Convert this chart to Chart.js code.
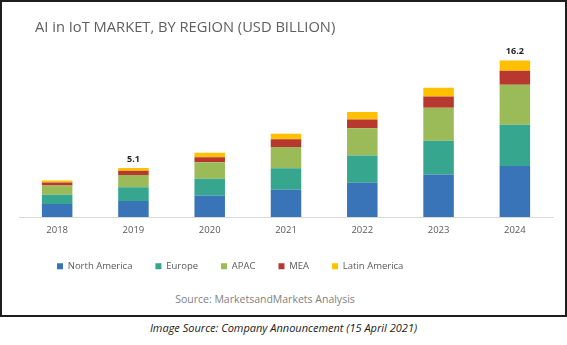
<!DOCTYPE html>
<html>
<head>
<meta charset="utf-8">
<script src="https://cdn.jsdelivr.net/npm/chart.js@4.4.1/dist/chart.umd.min.js"></script>
<style>
  html, body { margin: 0; padding: 0; background: #fff; width: 567px; height: 345px; overflow: hidden; }
  #box { position: absolute; left: 0; top: 0; width: 567px; height: 317px; box-sizing: border-box; border: 2px solid #1e1e1e; }
  #wrap { position: absolute; left: 0; top: 0; width: 563px; height: 283px; }
  #source { position: absolute; left: 0; width: 530px; top: 289px; text-align: center; font-family: "Open Sans", sans-serif; font-size: 10.5px; color: #7f7f7f; line-height: 20px; }
  #caption { position: absolute; left: 0; width: 567px; top: 318px; text-align: center; font-family: "Open Sans", sans-serif; font-style: italic; font-size: 11px; color: #1a1a1a; line-height: 20px; }
</style>
</head>
<body>
<div id="box">
  <div id="wrap"><canvas id="c"></canvas></div>
</div>
<div id="source">Source: MarketsandMarkets Analysis</div>
<div id="caption">Image Source: Company Announcement (15 April 2021)</div>
<script>
const titleText = 'AI in IoT MARKET, BY REGION (USD BILLION)';
const years = ['2018', '2019', '2020', '2021', '2022', '2023', '2024'];
const seriesNames = ['North America', 'Europe', 'APAC', 'MEA', 'Latin America'];
const northAmerica = [1.35, 1.67, 2.23, 2.84, 3.55, 4.40, 5.29];
const europe       = [0.96, 1.42, 1.74, 2.23, 2.84, 3.51, 4.26];
const apac         = [0.96, 1.28, 1.70, 2.20, 2.80, 3.40, 4.15];
const mea          = [0.32, 0.43, 0.53, 0.78, 0.92, 1.17, 1.46];
const latinAmerica = [0.21, 0.28, 0.46, 0.57, 0.78, 0.92, 1.06];
const totalLabels  = ['', '5.1', '', '', '', '', '16.2'];
const colors = ['#3a74b8', '#36a68f', '#9bbb59', '#b7382e', '#ffc000'];

const seriesValues = [northAmerica, europe, apac, mea, latinAmerica];

const labelPlugin = {
  id: 'totals',
  afterLayout(chart) {
    chart.legend.left += 15;
    chart.legend.top -= 4;
    chart.titleBlock.left += 16;
  },
  afterDatasetsDraw(chart) {
    const ctx = chart.ctx;
    const xs = chart.scales.x, ys = chart.scales.y;
    ctx.save();
    ctx.font = 'bold 9px "Open Sans", sans-serif';
    ctx.fillStyle = '#262626';
    ctx.textAlign = 'center';
    ctx.textBaseline = 'middle';
    totalLabels.forEach((t, i) => {
      if (!t) return;
      const sum = seriesValues.reduce((a, s) => a + s[i], 0);
      ctx.fillText(t, xs.getPixelForValue(i), ys.getPixelForValue(sum) - 9);
    });
    ctx.restore();
  }
};

new Chart(document.getElementById('c'), {
  type: 'bar',
  data: {
    labels: years,
    datasets: seriesNames.map((n, k) => ({
      label: n,
      data: seriesValues[k],
      backgroundColor: colors[k],
      borderWidth: 0,
      categoryPercentage: 1,
      barPercentage: 0.4
    }))
  },
  options: {
    responsive: true,
    maintainAspectRatio: false,
    animation: false,
    layout: { padding: { left: 17, right: 12, top: 0, bottom: 0 } },
    plugins: {
      title: {
        display: true, text: titleText, align: 'start',
        color: '#5f5f5f',
        font: { family: 'Open Sans', size: 14.7, weight: 'normal', lineHeight: 1.2 },
        padding: { top: 17, bottom: 13 }
      },
      legend: {
        position: 'bottom', align: 'start',
        labels: {
          boxWidth: 6, boxHeight: 6, padding: 23, color: '#595959',
          font: { family: 'Open Sans', size: 9.5 }
        }
      },
      tooltip: { enabled: false }
    },
    scales: {
      x: {
        stacked: true,
        grid: { display: false, drawTicks: false },
        border: { display: true, color: '#d9d9d9', width: 1 },
        ticks: { color: '#595959', font: { family: 'Open Sans', size: 9.5 }, padding: 7 }
      },
      y: {
        stacked: true, display: false, min: 0, max: 17.34
      }
    }
  },
  plugins: [labelPlugin]
});
</script>
</body>
</html>
